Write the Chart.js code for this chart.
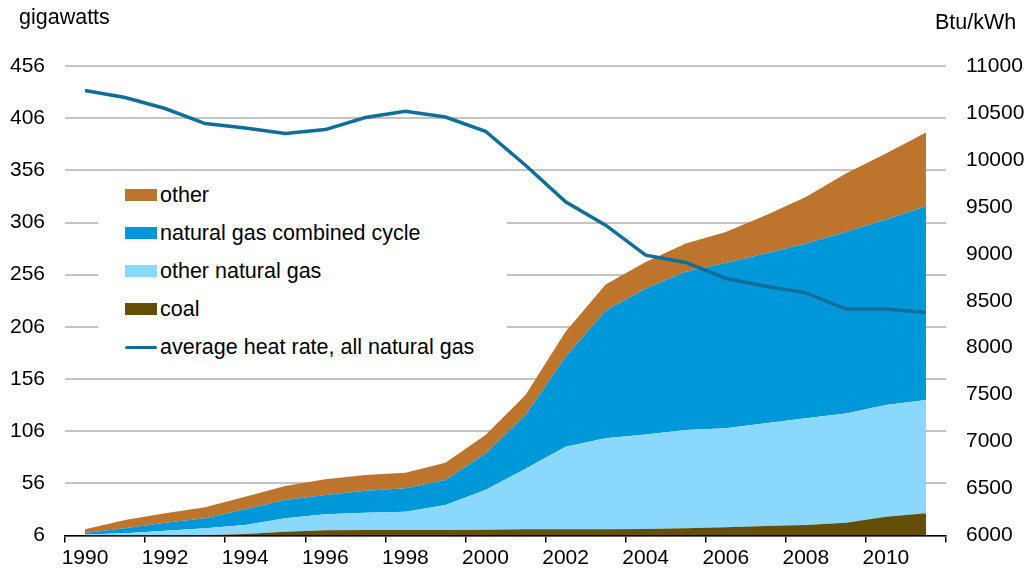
<!DOCTYPE html>
<html>
<head>
<meta charset="utf-8">
<script src="https://cdn.jsdelivr.net/npm/chart.js@4.4.1/dist/chart.umd.min.js"></script>
<style>
    body { margin: 0; background: #fff; }
    #wrap { position: relative; width: 1034px; height: 578px; font-family: "Liberation Sans", Arial, sans-serif; color: #000; }
    #wrap canvas { position: absolute; left: 0; top: 0; }
    .axisTitle { position: absolute; font-size: 21.5px; white-space: nowrap; }
    #legend { position: absolute; left: 98px; top: 174px; width: 409px; height: 194px; background: #fff; }
    .item { position: absolute; left: 27px; height: 24px; font-size: 21.5px; line-height: 24px; white-space: nowrap; }
    .item .sw { position: absolute; left: 0; width: 32px; }
    .item span { position: absolute; left: 35px; top: 0; }
</style>
</head>
<body>
<div id="wrap">
    <canvas id="modelsChart" width="1034" height="578"></canvas>
    <div class="axisTitle" style="left:19px; top:5px;">gigawatts</div>
    <div class="axisTitle" style="left:935px; top:10px;">Btu/kWh</div>
    <div id="legend"></div>
</div>
<script>
// years on the x axis
const years = ['1990', '1991', '1992', '1993', '1994', '1995', '1996', '1997', '1998', '1999', '2000',
    '2001', '2002', '2003', '2004', '2005', '2006', '2007', '2008', '2009', '2010', '2011'];

// capacity, gigawatts (stacked)
const coal = [6, 6, 6, 6.3, 7.5, 9.5, 11, 11.3, 11.3, 11.3, 11.5,
    11.9, 11.9, 11.9, 12.2, 12.9, 13.9, 15.1, 16.1, 18.3, 24.0, 27.3];
const otherGas = [1, 2.1, 4.6, 6.6, 8.6, 13.0, 15.3, 16.5, 17.5, 23.9, 38.1,
    58.0, 79.2, 87.2, 90.7, 94.1, 94.8, 98.4, 102.2, 104.7, 107.0, 108.5];
const combinedCycle = [1.4, 4.8, 7.7, 9.6, 15.0, 17.5, 18.5, 21.1, 22.4, 24.0, 35.1,
    51.5, 86.2, 122.2, 139.9, 151.7, 158.6, 162.8, 167.6, 174.0, 177.9, 185.8];
const other = [3.5, 7.9, 9.0, 10.5, 12.1, 13.4, 15.0, 15.0, 14.9, 16.5, 17.6,
    19.2, 23.9, 25.3, 25.4, 27.2, 29.7, 36.7, 44.6, 55.9, 63.2, 70.6];

// average heat rate, Btu/kWh (right axis)
const heatRate = [10740, 10664, 10547, 10387, 10340, 10281, 10323, 10451, 10518, 10457, 10305,
    9943, 9553, 9305, 8985, 8908, 8737, 8655, 8584, 8411, 8411, 8376];

// axis ranges
const leftMin = 6, leftMax = 456, leftStep = 50;
const rightMin = 6000, rightMax = 11000, rightStep = 500;

const colors = {
    coal: '#654f08',
    otherGas: '#8ad9fd',
    combinedCycle: '#0098d8',
    other: '#bd752e',
    heatRate: '#0f6f9a'
};

const areaSet = (label, data, color, fill) => ({
    label: label,
    data: data,
    backgroundColor: color,
    borderColor: color,
    borderWidth: 0,
    pointRadius: 0,
    fill: fill,
    yAxisID: 'y',
    stack: 'cap',
    order: 1,
    tension: 0
});

const datasets = [
    areaSet('coal', coal, colors.coal, 'origin'),
    areaSet('other natural gas', otherGas, colors.otherGas, '-1'),
    areaSet('natural gas combined cycle', combinedCycle, colors.combinedCycle, '-1'),
    areaSet('other', other, colors.other, '-1'),
    {
        label: 'average heat rate, all natural gas',
        data: heatRate,
        borderColor: colors.heatRate,
        backgroundColor: colors.heatRate,
        borderWidth: 3.5,
        pointRadius: 0,
        fill: false,
        yAxisID: 'y2',
        order: 0,
        tension: 0
    }
];

const tickFont = { family: '"Liberation Sans", Arial, sans-serif', size: 21 };

const config = {
    type: 'line',
    data: { labels: years, datasets: datasets },
    options: {
        responsive: false,
        animation: false,
        layout: { padding: { top: 66, left: 0, right: 0, bottom: 0 } },
        plugins: {
            legend: { display: false },
            tooltip: { enabled: false }
        },
        scales: {
            x: {
                type: 'category',
                offset: true,
                grid: {
                    offset: true,
                    drawOnChartArea: false,
                    drawTicks: true,
                    tickLength: 7,
                    lineWidth: 1.5,
                    color: ctx => (ctx.index === undefined || ctx.index % 2 === 0) ? '#000' : 'rgba(0,0,0,0)'
                },
                border: { display: true, color: '#000', width: 1.5 },
                ticks: {
                    autoSkip: false,
                    maxRotation: 0,
                    padding: 3,
                    color: '#000',
                    font: tickFont,
                    callback: function (value, index) {
                        return index % 2 === 0 ? this.getLabelForValue(value) : '';
                    }
                },
                afterFit: scale => { scale.height = 42.5; }
            },
            y: {
                position: 'left',
                stacked: true,
                min: leftMin,
                max: leftMax,
                grid: { color: '#c4c4c4', lineWidth: 2, drawTicks: false },
                border: { display: false },
                ticks: {
                    stepSize: leftStep,
                    padding: 20,
                    color: '#000',
                    font: tickFont,
                    callback: v => String(v)
                },
                afterFit: scale => { scale.width = 65; }
            },
            y2: {
                position: 'right',
                stacked: false,
                min: rightMin,
                max: rightMax,
                grid: { display: false, drawTicks: false },
                border: { display: false },
                ticks: {
                    stepSize: rightStep,
                    padding: 20,
                    color: '#000',
                    font: tickFont,
                    callback: v => String(v)
                },
                afterFit: scale => { scale.width = 88; }
            }
        }
    }
};

new Chart('modelsChart', config);

// legend, top to bottom
const legendItems = [
    { label: datasets[3].label, color: colors.other, line: false },
    { label: datasets[2].label, color: colors.combinedCycle, line: false },
    { label: datasets[1].label, color: colors.otherGas, line: false },
    { label: datasets[0].label, color: colors.coal, line: false },
    { label: datasets[4].label, color: colors.heatRate, line: true }
];

const legend = document.getElementById('legend');
legendItems.forEach((item, i) => {
    const row = document.createElement('div');
    row.className = 'item';
    row.style.top = (9 + i * 37.9) + 'px';
    const sw = document.createElement('div');
    sw.className = 'sw';
    if (item.line) {
        sw.style.top = '11px';
        sw.style.height = '3.5px';
        sw.style.borderRadius = '2px';
    } else {
        sw.style.top = '6px';
        sw.style.height = '12px';
    }
    sw.style.background = item.color;
    const txt = document.createElement('span');
    txt.textContent = item.label;
    row.appendChild(sw);
    row.appendChild(txt);
    legend.appendChild(row);
});
</script>
</body>
</html>
